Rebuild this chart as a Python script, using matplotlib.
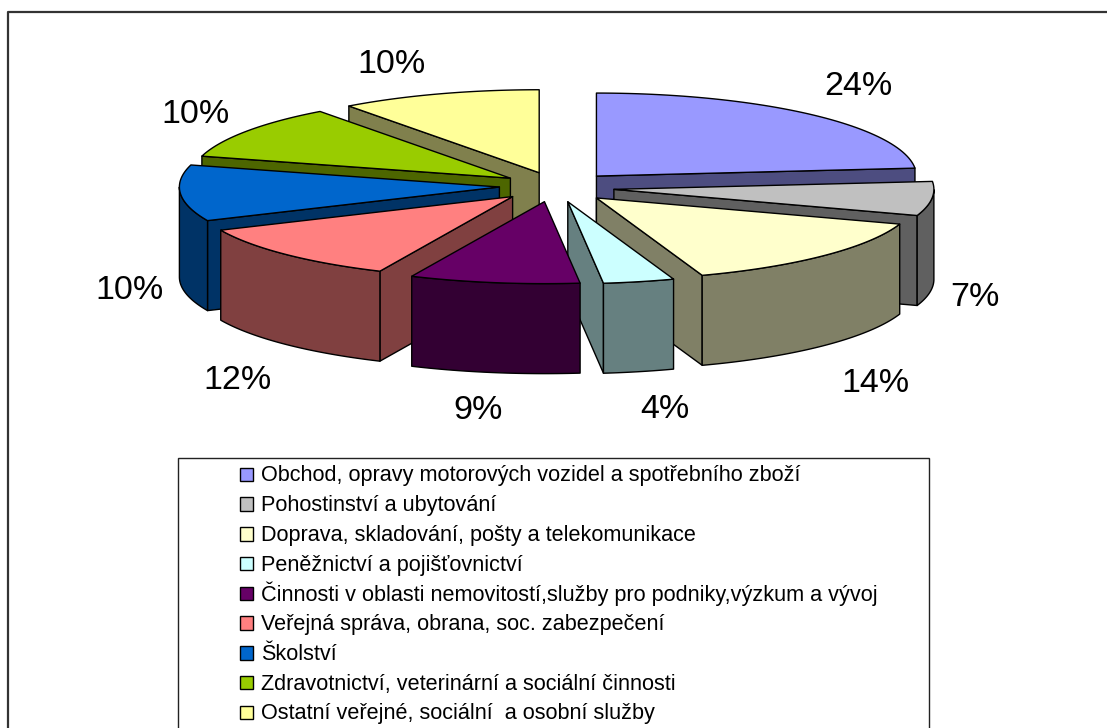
import numpy as np
import matplotlib
matplotlib.use("Agg")
import matplotlib.pyplot as plt
from matplotlib.patches import Polygon, Rectangle

categories = [
    "Obchod, opravy motorových vozidel a spotřebního zboží",
    "Pohostinství a ubytování",
    "Doprava, skladování, pošty a telekomunikace",
    "Peněžnictví a pojišťovnictví",
    "Činnosti v oblasti nemovitostí,služby pro podniky,výzkum a vývoj",
    "Veřejná správa, obrana, soc. zabezpečení",
    "Školství",
    "Zdravotnictví, veterinární a sociální činnosti",
    "Ostatní veřejné, sociální  a osobní služby",
]
values = [24, 7, 14, 4, 9, 12, 10, 10, 10]
top_colors = ["#9999FF", "#C0C0C0", "#FFFFCC", "#CCFFFF", "#660066",
              "#FF8080", "#0066CC", "#99CC00", "#FFFF99"]
side_colors = ["#4D4D80", "#606060", "#808066", "#668080", "#330033",
               "#804040", "#003366", "#4D6600", "#80804D"]

# layout, in pixels of the 1107x728 picture
cx, cy = 557, 187
rx, ry_back, ry_front = 320, 83, 82
ex, ey = 57.6, 15
depth = 90
# excel's perspective moves the slice edges a little, degrees per boundary
persp = [0, 1.9, 3, 1.3, 2.8, 4.3, 6.2, 2.6, 0.5, 0]
label_pos = [(858, 86.5), (975, 297.5), (875, 383.5), (665, 409.5), (478, 410.5),
             (238, 380.5), (129, 290.5), (195, 114.5), (391, 64.5)]
draw_order = [8, 7, 6, 5, 0, 1, 2, 3, 4]

plt.rcParams["font.family"] = ["Liberation Sans", "DejaVu Sans"]

fig = plt.figure(figsize=(11.07, 7.28), dpi=100)
ax = fig.add_axes([0, 0, 1, 1])
ax.set_xlim(0, 1107)
ax.set_ylim(728, 0)
ax.axis("off")

bounds = 90 - 3.6 * np.concatenate(([0], np.cumsum(values)))


def warp(t):
    return t + np.interp(t, bounds[::-1], persp[::-1])


def rim(t, ax0, ay0):
    a = np.radians(warp(t))
    s = np.sin(a)
    ry = np.where(s > 0, ry_back, ry_front)
    return np.column_stack((ax0 + rx * np.cos(a), ay0 - ry * s))


def face(points, color):
    ax.add_patch(Polygon(points, closed=True, facecolor=color, edgecolor="black",
                         linewidth=1.0, joinstyle="round"))


# outer frame has only its left and top edges in the picture
ax.plot([8, 8, 1107], [728, 11.5, 11.5], color="#333333", lw=1.6, solid_capstyle="butt")

for i in draw_order:
    t1, t2 = bounds[i], bounds[i + 1]
    mid = np.radians((t1 + t2) / 2)
    ax0 = cx + ex * np.cos(mid)
    ay0 = cy - ey * np.sin(mid)
    apex = np.array([[ax0, ay0]])
    down = np.array([0, depth])
    arc = rim(np.linspace(t1, t2, 60), ax0, ay0)

    # radial walls, only those turned to the viewer
    if np.cos(np.radians(warp(t1))) < -1e-6:
        p = np.vstack((apex, arc[:1]))
        face(np.vstack((p, p[::-1] + down)), side_colors[i])
    if np.cos(np.radians(warp(t2))) > 1e-6:
        p = np.vstack((apex, arc[-1:]))
        face(np.vstack((p, p[::-1] + down)), side_colors[i])

    # outer wall where the rim runs along the front
    front = arc[arc[:, 1] >= ay0 - 0.01]
    if len(front) > 1:
        face(np.vstack((front, front[::-1] + down)), side_colors[i])

    face(np.vstack((apex, arc)), top_colors[i])

for v, (x, y) in zip(values, label_pos):
    ax.text(x, y, f"{v}%", fontsize=24.5, ha="center", va="center", color="black")

# legend box runs off the bottom of the picture
ax.add_patch(Rectangle((178, 457.5), 751, 290, facecolor="white", edgecolor="#222222", lw=1.0))
row_h = 29.75
for k, (name, c) in enumerate(zip(categories, top_colors)):
    ax.add_patch(Rectangle((239.5, 467.5 + k * row_h), 13.5, 13.5, facecolor=c,
                           edgecolor="black", lw=1.0))
    ax.text(261, 481.5 + k * row_h, name, fontsize=15.55, ha="left", va="baseline",
            color="black")

fig.savefig("out.png", dpi=100)
